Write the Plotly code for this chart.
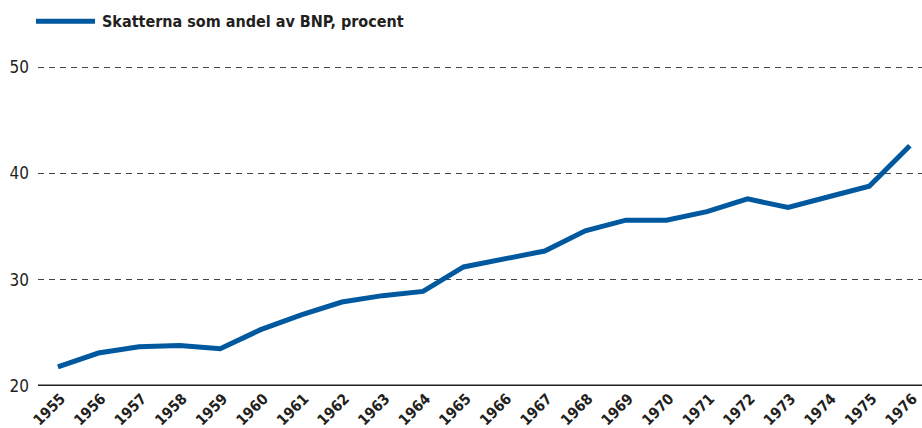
import plotly.graph_objects as go

years = list(range(1955, 1977))
tax_share = [21.8, 23.1, 23.7, 23.8, 23.5, 25.3, 26.7, 27.9, 28.5, 28.9, 31.2,
             32.0, 32.7, 34.6, 35.6, 35.6, 36.4, 37.6, 36.8, 37.8, 38.8, 42.6]
series_name = "Skatterna som andel av BNP, procent"
y_ticks = [20, 30, 40, 50]

FONT = "DejaVu Sans Condensed, Liberation Sans Narrow, Arial Narrow, sans-serif"
BLUE = "#00599F"
INK = "#231F20"

fig = go.Figure()
fig.add_trace(go.Scatter(
    x=years, y=tax_share, mode="lines", name=series_name,
    line=dict(color=BLUE, width=5), showlegend=False,
))

fig.update_layout(
    width=922, height=428,
    paper_bgcolor="white", plot_bgcolor="white",
    margin=dict(l=38, r=0, t=45, b=42, autoexpand=False),
    font=dict(family=FONT, color=INK),
    showlegend=False,
)
# legend-style key drawn at the top left
fig.add_shape(type="line", xref="paper", yref="paper",
              x0=-0.0023, x1=0.0645, y0=1.07, y1=1.07,
              line=dict(color=BLUE, width=5))
fig.add_annotation(text=series_name, xref="paper", yref="paper",
                   x=0.0707, y=1.07, xanchor="left", yanchor="middle",
                   showarrow=False,
                   font=dict(family=FONT, size=16, color=INK, weight="bold"))

fig.update_xaxes(
    range=[1954.51, 1976.3], tickmode="array", tickvals=years,
    ticktext=[str(y) for y in years], tickangle=-45,
    tickfont=dict(family=FONT, size=15, color=INK, weight="bold"),
    showgrid=False, zeroline=False, showline=False, ticks="",
    automargin=False, ticklabelshift=3, ticklabelstandoff=0,
    ticklabeloverflow="allow",
)
fig.update_yaxes(
    range=[20, 52.08], tickmode="array", tickvals=y_ticks,
    tickfont=dict(family=FONT, size=17, color=INK),
    showgrid=True, gridcolor="#444444", griddash="6px,5px", gridwidth=1,
    zeroline=False, showline=False, ticks="", ticklabelstandoff=8,
    automargin=False,
)
fig.add_hline(y=20, line=dict(color=INK, width=3), layer="above")

fig.write_html("out.html", config={"displayModeBar": False},
               post_script="document.body.style.margin='0';document.body.style.overflow='hidden';")
